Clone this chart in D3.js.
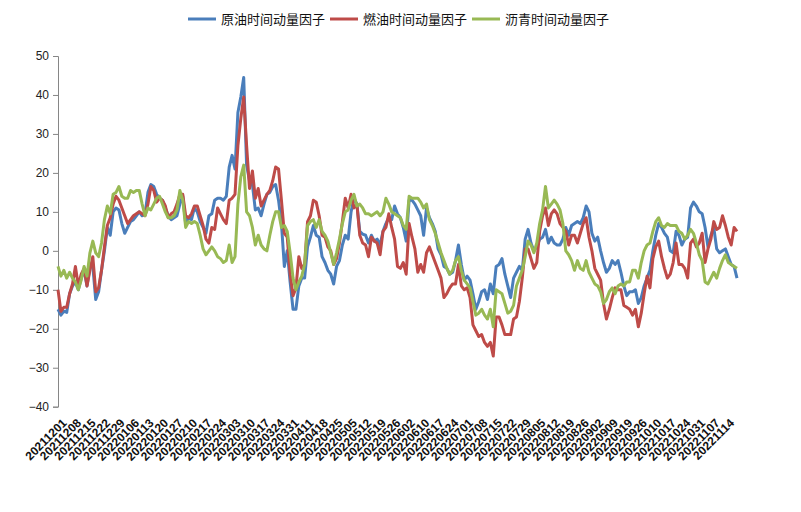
<!DOCTYPE html>
<html>
<head>
<meta charset="utf-8">
<script src="https://cdn.jsdelivr.net/npm/d3@7"></script>
<style>
  html, body { margin: 0; padding: 0; background: #fff; }
  svg { display: block; }
</style>
</head>
<body>
<svg id="chart" width="801" height="512"></svg>
<script>
const dates = [
  '20211201','20211202','20211203','20211206','20211207','20211208','20211209','20211210','20211213','20211214',
  '20211215','20211216','20211217','20211220','20211221','20211222','20211223','20211224','20211227','20211228',
  '20211229','20211230','20211231','20220104','20220105','20220106','20220107','20220110','20220111','20220112',
  '20220113','20220114','20220117','20220118','20220119','20220120','20220121','20220124','20220125','20220126',
  '20220127','20220128','20220207','20220208','20220209','20220210','20220211','20220214','20220215','20220216',
  '20220217','20220218','20220221','20220222','20220223','20220224','20220225','20220228','20220301','20220302',
  '20220303','20220304','20220307','20220308','20220309','20220310','20220311','20220314','20220315','20220316',
  '20220317','20220318','20220321','20220322','20220323','20220324','20220325','20220328','20220329','20220330',
  '20220331','20220401','20220406','20220407','20220408','20220411','20220412','20220413','20220414','20220415',
  '20220418','20220419','20220420','20220421','20220422','20220425','20220426','20220427','20220428','20220429',
  '20220505','20220506','20220509','20220510','20220511','20220512','20220513','20220516','20220517','20220518',
  '20220519','20220520','20220523','20220524','20220525','20220526','20220527','20220530','20220531','20220601',
  '20220602','20220606','20220607','20220608','20220609','20220610','20220613','20220614','20220615','20220616',
  '20220617','20220620','20220621','20220622','20220623','20220624','20220627','20220628','20220629','20220630',
  '20220701','20220704','20220705','20220706','20220707','20220708','20220711','20220712','20220713','20220714',
  '20220715','20220718','20220719','20220720','20220721','20220722','20220725','20220726','20220727','20220728',
  '20220729','20220801','20220802','20220803','20220804','20220805','20220808','20220809','20220810','20220811',
  '20220812','20220815','20220816','20220817','20220818','20220819','20220822','20220823','20220824','20220825',
  '20220826','20220829','20220830','20220831','20220901','20220902','20220905','20220906','20220907','20220908',
  '20220909','20220913','20220914','20220915','20220916','20220919','20220920','20220921','20220922','20220923',
  '20220926','20220927','20220928','20220929','20220930','20221010','20221011','20221012','20221013','20221014',
  '20221017','20221018','20221019','20221020','20221021','20221024','20221025','20221026','20221027','20221028',
  '20221031','20221101','20221102','20221103','20221104','20221107','20221108','20221109','20221110','20221111',
  '20221114','20221115','20221116','20221117','20221118'
];

const tickLabels = [
  '20211201','20211208','20211215','20211222','20211229','20220106','20220113','20220120','20220127','20220210',
  '20220217','20220224','20220303','20220310','20220317','20220324','20220331','20220411','20220418','20220425',
  '20220505','20220512','20220519','20220526','20220602','20220610','20220617','20220624','20220701','20220708',
  '20220715','20220722','20220729','20220805','20220812','20220819','20220826','20220902','20220909','20220919',
  '20220926','20221010','20221017','20221024','20221031','20221107','20221114'
];

const yTicks = [-40, -30, -20, -10, 0, 10, 20, 30, 40, 50];

const crude = [
  -15, -16.5, -15.5, -15.8, -11, -9, -8, -10, -7, -5,
  -9, -4, -4, -12.5, -10.5, -5, 0, 6, 4, 10,
  11, 10.5, 7, 4.5, 6, 7.5, 8, 9, 10, 9,
  9.5, 15, 17, 16.5, 14.5, 13.5, 13, 11, 9, 8,
  8.5, 9, 12, 14, 7, 8.5, 8, 11, 10, 7.5,
  6, 4.5, 9, 9.5, 13, 13.5, 13.5, 13, 14, 21.5,
  24.5, 21, 35.5, 39.5, 44.5, 22, 18, 17, 10.5, 11,
  9, 12, 14.5, 15, 16.5, 17, 13, 7, -4, 0,
  -8, -15, -15, -9, -7, -7, 1, 3.5, 6.5, 4,
  3.5, -1.5, -3, -5, -6, -8.5, -4, -2.5, 1.5, 4,
  3, 10, 13.5, 12, 5, 4.3, 4, 2, 4, 2.5,
  3, 1.5, 5, 7, 8.5, 8, 11.5, 9.5, 8.5, 6,
  2.5, 13, 13, 12, 10.5, 9, 4, 11, 8.5, 7,
  5, 0.5, -1, -4, -4.5, -6, -5.5, -2.5, 1.5, -3.5,
  -7.5, -6.5, -7.5, -11, -15, -13, -10.5, -10, -12.5, -8.5,
  -11, -4, -3.5, -2, -6, -9, -12, -7, -5.5, -4,
  -5, 3, 5.5, 2, 0, 1, 3, 3.5, 5.5, 2,
  3.5, 2, 1.5, 1.5, 3, 6, 4, 6.5, 7, 7.5,
  7, 8.5, 11.5, 10, 4.5, 2.5, 3.5, 0, -3, -5.5,
  -4.5, -2.5, -3.5, -2.5, -5.5, -9, -11.5, -10.5, -10.5, -10,
  -13.5, -12, -9, -7, -5, 0, 4, 7, 6, 4.5,
  3.5, 0, -0.5, 5, 4, 1.5, 3, 3.5, 11, 12.5,
  11.5, 10, 9.5, 6, 1, 4, 6, 0.5, -0.5, 0,
  0.5, -1.5, -3.5, -4, -7
];

const fuelOil = [
  -10, -15.5, -14.5, -14.5, -11, -8.5, -4, -9, -6, -4.5,
  -9, -5, -1.5, -10.5, -9.5, -5, 1, 6.5, 8.5, 12,
  14, 13, 11, 9, 7, 8, 9, 9.5, 10, 9.5,
  9, 12, 16.5, 15.5, 12.5, 13.5, 13, 11.5, 8.5, 9.5,
  10, 12, 14.5, 14.5, 9, 8.5, 9.5, 11.5, 11.5, 9,
  6.5, 3, 2, 6, 5.5, 11, 9.5, 8, 7, 13,
  13.5, 14.5, 27, 34, 39.5, 27, 16, 20.5, 13.5, 16,
  11.5, 13, 14.5, 15.5, 18, 21.5, 21, 13, 4.5, 3.5,
  -6, -11.5, -9.5, -1.5, -4.5, -3.5, 7.5, 9, 13, 12.5,
  9, 4, 3.5, 1, 0, -3.5, -2, 2, 7.5, 13.5,
  11, 14.5, 11, 12, 4, 2, 1.5, -1.5, 3.5, 2.5,
  2, -1, 5, 6, 9.5, 6, 3, -4, -4.5, -3,
  -6, 7, 3.5, 0.5, -5.5, -3.5, -5.5, -0.5, 1, -1,
  -3, -5, -7, -12, -11, -9.5, -8.5, -8.5, -3.5, -9,
  -10, -9.5, -12, -19, -20.5, -22, -21.5, -23.5, -24.5, -23.5,
  -27, -17, -17, -19, -21.5, -21.5, -21.5, -17.5, -17, -13,
  -7, 0.5, 0.5, -2, -4.5, -3, 5, 9, 11, 6.5,
  9.5, 10.5, 9.5, 7, 6, 5, 1.5, 4, 4, 2,
  4.5, 7, 8.5, 3.5, 0, -4.5, -6, -7.5, -13.5, -17.5,
  -15, -12, -9.5, -10, -10, -14, -14.5, -15, -16.5, -15,
  -19.5, -16, -11, -6.5, -9.5, -2, 1, 2.5, -1.5, -4.5,
  -7, -6, -3, 2, -3.5, -3.5, -4.5, -7, 2, 3,
  1, 2, 4.5, -3, 0.5, 3, 7.5, 5.5, 6, 9,
  6.5, 3.5, 1.5, 6, 5
];

const asphalt = [
  -4, -6.5, -5, -7, -5.5, -7, -8, -10, -7.5, -4,
  -6.5, -0.5, 2.5, -0.5, -1.5, 2, 8, 11.5, 9.5, 14.5,
  15, 16.5, 14, 13.5, 13.5, 15.5, 15, 15.5, 15.5, 12,
  9, 11, 10.5, 12, 13.5, 14, 12, 10, 8.5, 8.5,
  9, 10.5, 15.5, 13, 6, 7.5, 7, 7.5, 7, 4,
  0.5, -1, 0, 1, 0, -1.5, -2, -3, -2.5, 1.5,
  -3, -1.5, 12, 19, 22, 10, 9, 6, 1.5, 4,
  1.5, 0.5, 0, 4, 7.5, 10, 10, 6, 6.5, 5,
  -0.5, -7, -10, -8, -6.5, -3.5, 6.5, 7.5, 8, 6,
  8, 5, 4, 2.5, -0.5, -3.5, -0.5, 3, 7, 10,
  10.5, 13, 14.5, 11.5, 12, 11, 9.5, 9.5, 9, 9.5,
  10, 9, 10, 13.5, 12, 10, 9.5, 9, 8.5, 6.5,
  5.5, 14, 13.5, 13.5, 13.5, 12.5, 11, 12, 8, 6.5,
  4.5, 2, -0.5, -2.5, -4.5, -6, -5, -2.5, -1.5, -5,
  -7.5, -8.5, -9.5, -13, -16.5, -16, -15, -16.5, -17.5, -15,
  -19.5, -10, -10.5, -11, -13.5, -16, -15.5, -14, -9, -7,
  -5, -1.5, 2.5, 1.5, -0.5, 2, 7, 10.5, 16.5, 11,
  12, 13, 12, 10.5, 7, 0, -1, -2.5, -5, -2.5,
  -4.5, -5, -2.5, -5.5, -7, -8.5, -9, -10.5, -13.5, -12.5,
  -10.5, -9.5, -11, -9, -8.5, -9, -8, -8, -5, -5,
  -7, -3, 0, 1.5, 2, 5, 7.5, 8.5, 6.5, 6,
  7, 6.5, 6.5, 6.5, 5, 4.5, 3, 4, 5.5, 4.5,
  2, -1, -2.5, -8, -8.5, -7, -5.5, -7, -4.5, -2.5,
  -1, -3, -3.5, -4, -4.5
];

const series = [
  { name: '原油时间动量因子', values: crude, color: '#4A7EBB' },
  { name: '燃油时间动量因子', values: fuelOil, color: '#BE4B48' },
  { name: '沥青时间动量因子', values: asphalt, color: '#98B954' },
];

const svg = d3.select('#chart');
const plotLeft = 58, plotRight = 737, plotTop = 56, plotBottom = 406.7;

const x = d3.scalePoint().domain(dates).range([plotLeft, plotRight]);
const y = d3.scaleLinear().domain([-40, 50]).range([plotBottom, plotTop]);

// y axis
const yAxis = svg.append('g')
  .attr('transform', `translate(${plotLeft},0)`)
  .call(d3.axisLeft(y).tickValues(yTicks).tickSize(5).tickPadding(4).tickFormat(d3.format('d')));
yAxis.select('.domain').attr('stroke', '#868686').attr('stroke-width', 1);
yAxis.selectAll('.tick line').attr('stroke', '#868686');
yAxis.selectAll('.tick text')
  .attr('fill', '#222')
  .attr('font-family', '"Liberation Sans", Arial, sans-serif')
  .attr('font-size', 12);

// x axis labels (no axis line)
const xAxis = svg.append('g')
  .attr('transform', `translate(0,${plotBottom})`)
  .call(d3.axisBottom(x).tickValues(tickLabels).tickSize(0).tickPadding(0));
xAxis.select('.domain').remove();
xAxis.selectAll('.tick text')
  .attr('text-anchor', 'end')
  .attr('fill', '#111')
  .attr('font-family', '"Liberation Sans", Arial, sans-serif')
  .attr('font-weight', 'bold')
  .attr('font-size', 12)
  .attr('dy', '0.35em')
  .attr('transform', 'translate(6,14) rotate(-45)');

const line = d3.line()
  .x((d, i) => x(dates[i]))
  .y(d => y(d));

svg.append('g').selectAll('path').data(series).join('path')
  .attr('fill', 'none')
  .attr('stroke', d => d.color)
  .attr('stroke-width', 3)
  .attr('stroke-linejoin', 'round')
  .attr('d', d => line(d.values));

// legend
const legendX = [188, 330, 472];
const legend = svg.append('g').attr('transform', 'translate(0,19)');
series.forEach((s, i) => {
  const g = legend.append('g').attr('transform', `translate(${legendX[i]},0)`);
  g.append('line').attr('x1', 0).attr('x2', 28).attr('y1', 0).attr('y2', 0)
    .attr('stroke', s.color).attr('stroke-width', 3);
  g.append('text').attr('x', 33).attr('y', 0).attr('dy', '0.35em')
    .attr('font-family', '"Noto Sans CJK SC", sans-serif')
    .attr('font-size', 13)
    .attr('fill', '#111')
    .text(s.name);
});
</script>
</body>
</html>
